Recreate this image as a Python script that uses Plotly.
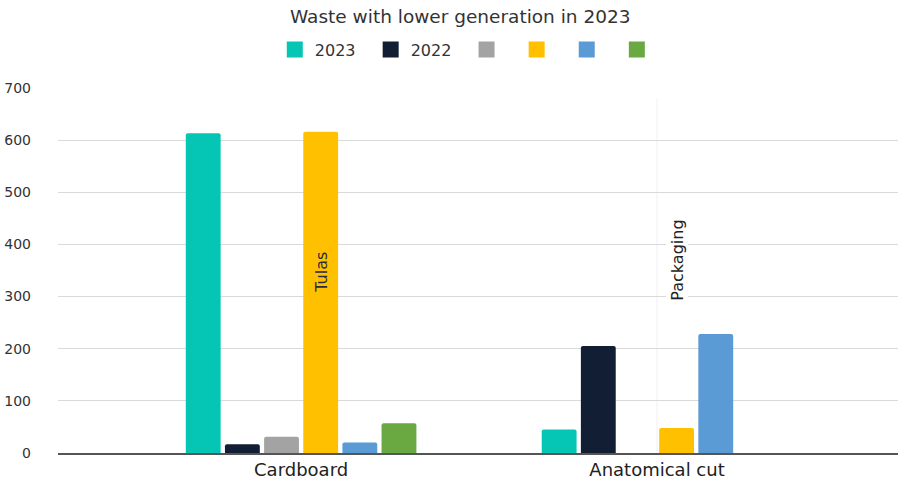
import plotly.graph_objects as go

# Categories and series values
categories = ["Cardboard", "Anatomical cut"]
series_names = ["2023\u00a0\u00a0", "2022\u00a0\u00a0", " ", " ", " ", " "]
values_2023 = [613, 45]
values_2022 = [17, 205]
values_gray = [31, None]
values_yellow = [616, 48]
values_blue = [20, 228]
values_green = [57, None]
bar_labels = ["Tulas", "Packaging"]
label_levels = [347, 370]

colors = ["#05C6B4", "#111E33", "#A3A3A3", "#FFC000", "#5B9BD5", "#6AA842"]
all_values = [values_2023, values_2022, values_gray, values_yellow, values_blue, values_green]

font_family = "DejaVu Sans"
bargap = 0.34
n_series = len(all_values)
slot = (1 - bargap) / n_series

fig = go.Figure()
for name, vals, col in zip(series_names, all_values, colors):
    fig.add_trace(go.Bar(
        x=[0, 1], y=vals, name=name, showlegend=False,
        marker=dict(color=col, line=dict(width=0), cornerradius=2),
    ))
    # square legend swatch
    fig.add_trace(go.Scatter(
        x=[None], y=[None], mode="markers", name=name,
        marker=dict(symbol="square", size=16, color=col),
    ))

# Labels for the yellow series, placed at that bar's slot
yellow_idx = 3
yellow_offset = (yellow_idx - (n_series - 1) / 2) * slot
fig.add_annotation(x=0 + yellow_offset, y=label_levels[0], text=bar_labels[0],
                   textangle=-90, showarrow=False, xref="x", yref="y",
                   font=dict(family=font_family, size=16, color="#2B2B45"))
# faint leader line next to the second label
fig.add_shape(type="line", xref="x", yref="y",
              x0=1 + yellow_offset - slot / 2, x1=1 + yellow_offset - slot / 2,
              y0=0, y1=680, line=dict(color="#F0F0F0", width=1), layer="below")
fig.add_annotation(x=1 + yellow_offset, y=label_levels[1], text=bar_labels[1],
                   textangle=-90, showarrow=False, xref="x", yref="y",
                   bgcolor="white",
                   font=dict(family=font_family, size=16, color="#222222"))

fig.update_layout(
    width=899, height=486,
    margin=dict(l=58, r=1, t=88, b=33),
    paper_bgcolor="white", plot_bgcolor="white",
    barmode="group", bargap=bargap, bargroupgap=0.11,
    font=dict(family=font_family, color="#333333"),
    title=dict(text="Waste with lower generation in 2023", x=0.512, xanchor="center",
               y=0.98, yanchor="top", font=dict(size=18.5, color="#333333")),
    legend=dict(orientation="h", x=0.492, xanchor="center", y=1.105, yanchor="middle",
                font=dict(size=16, color="#333333"), traceorder="normal",
                itemwidth=30, itemsizing="trace", tracegroupgap=0),
    showlegend=True,
)
fig.update_xaxes(
    tickmode="array", tickvals=[0, 1], ticktext=categories,
    range=[-0.683, 1.677], showgrid=False,
    showline=True, linecolor="#555555", linewidth=1.5,
    tickfont=dict(size=18, color="#222222"), ticks="",
)
fig.update_yaxes(
    range=[0, 700], tickvals=[0, 100, 200, 300, 400, 500, 600, 700],
    showgrid=True, gridcolor="#D9D9D9", gridwidth=1,
    zeroline=False, tickfont=dict(size=14, color="#333333"),
    ticklabelstandoff=26,
)

fig.write_html("out.html")
